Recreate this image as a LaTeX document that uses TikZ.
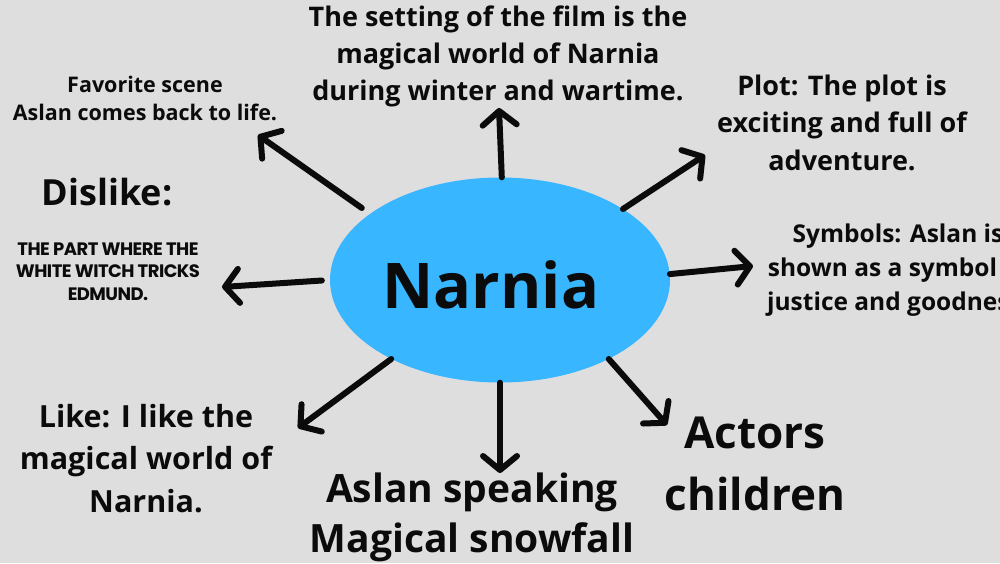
\documentclass[tikz,border=0pt]{standalone}
\usepackage{fontspec}
\setmainfont{Open Sans}
\newfontfamily\capsfont{Poppins}[LetterSpace=-3]
\usetikzlibrary{arrows.meta, shapes.geometric}
\definecolor{bggray}{HTML}{DEDEDE}
\definecolor{narniablue}{HTML}{38B6FF}
\definecolor{inkblack}{HTML}{0B0B0B}
\tikzset{
	branch/.style={line width=6pt, draw=inkblack, line cap=round,
	-{Straight Barb[length=14pt, width=34pt, round]}},
	note/.style={align=center, text=inkblack, inner sep=0pt, anchor=base}
}

\begin{document}
\begin{tikzpicture}[x=1pt, y=-1pt]
	\clip (0, 0) rectangle (1000, 563);
	\fill[bggray] (0, 0) rectangle (1000, 563);

	% centre
	\node[ellipse, fill=narniablue, minimum width=340pt, minimum height=205pt, inner sep=0pt] (hub) at (500, 280) {};
	\node[note, font=\fontsize{63}{63}\selectfont\bfseries] (title) at (491, 308) {Narnia};

	% branches (anchored at the baseline of the last line)
	\node[note, font=\fontsize{27}{37}\selectfont\bfseries] (setting) at (498, 100) {The setting of the film is the\\magical world of Narnia\\during winter and wartime.};
	\node[note, font=\fontsize{21.5}{28}\selectfont\bfseries] (scene) at (145, 120) {Favorite scene\\Aslan comes back to life.};
	\node[note, font=\fontsize{36}{36}\selectfont\bfseries] (dislike) at (107, 205) {Dislike:};
	\node[note, font=\capsfont\fontsize{18}{22.5}\selectfont\bfseries] (witch) at (108, 300) {THE PART WHERE THE\\WHITE WITCH TRICKS\\EDMUND.};
	\node[note, font=\fontsize{27}{37.5}\selectfont\bfseries] (plot) at (842, 170) {Plot: The plot is\\exciting and full of\\adventure.};
	\node[note, font=\fontsize{24.5}{34}\selectfont\bfseries] (symbols) at (898, 310) {Symbols: Aslan is\\shown as a symbol of\\justice and goodness.};
	\node[note, font=\fontsize{30.5}{42.5}\selectfont\bfseries] (like) at (146, 512) {Like: I like the\\magical world of\\Narnia.};
	\node[note, font=\fontsize{39}{50}\selectfont\bfseries] (snow) at (472, 552) {Aslan speaking\\Magical snowfall};
	\node[note, font=\fontsize{44}{62}\selectfont\bfseries] (actors) at (755, 510) {Actors\\children};

	% arrow tips
	\coordinate (tsetting) at (499, 108);
	\coordinate (tplot) at (705, 155);
	\coordinate (tsymbols) at (753, 266);
	\coordinate (tactors) at (667, 425);
	\coordinate (tsnow) at (500, 473);
	\coordinate (tlike) at (298, 428);
	\coordinate (tdislike) at (222, 287);
	\coordinate (tscene) at (258, 135);

	\draw[branch] (hub.89) -- (tsetting);
	\draw[branch] (hub.30) -- (tplot);
	\draw[branch] (hub.2) -- (tsymbols);
	\draw[branch] (hub.-36) -- (tactors);
	\draw[branch] (hub.south) -- (tsnow);
	\draw[branch] (hub.216) -- (tlike);
	\draw[branch, shorten <=8pt] (hub.west) -- (tdislike);
	\draw[branch, shorten <=10pt] (hub.153) -- (tscene);
\end{tikzpicture}
\end{document}
